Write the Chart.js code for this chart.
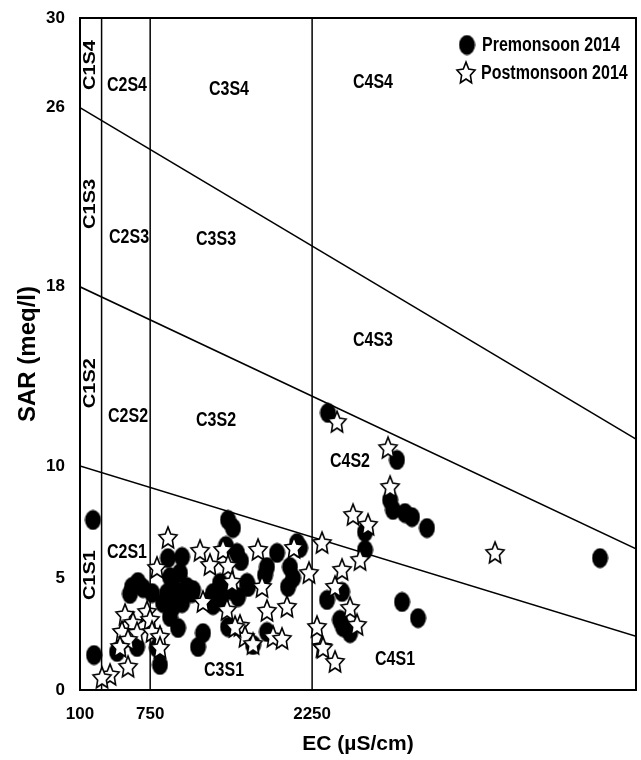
<!DOCTYPE html>
<html lang="en">
<head>
<meta charset="UTF-8">
<title>USSL Diagram</title>
<style>
    body { margin: 0; background: #fff; }
    .chart-box { width: 641px; height: 760px; }
</style>
</head>
<body>
<div class="chart-box"><canvas id="usslChart" width="641" height="760"></canvas></div>

<script src="https://cdn.jsdelivr.net/npm/chart.js"></script>
<script>
    // Premonsoon 2014 samples
    const preEC = [220, 230, 582, 637, 563, 684, 767, 443, 628, 841, 813, 915, 1045, 934, 1026, 906, 980, 1091, 1137,
        869, 961, 1045, 934, 1008, 1193, 1239, 1471, 1517, 1452, 1554, 1591, 1332, 1397, 1489, 1332, 1406, 1564, 1656, 1471,
        1832, 1925, 1814, 2045, 2027, 2073, 2138, 2110, 1703, 1832, 1147, 1304, 1647, 2397, 3036, 2972, 2999, 3110, 3175, 3314,
        2740, 2740, 2527, 2388, 3083, 3231, 2508, 2536, 2601, 4917];
    const preSAR = [7.59, 1.56, 4.60, 4.82, 4.29, 4.55, 4.33, 1.70, 1.92, 1.12, 1.88, 5.89, 5.94, 5.04, 5.22, 4.33, 4.46, 4.60, 4.33,
        3.88, 3.71, 3.88, 3.26, 2.77, 1.92, 2.54, 7.59, 7.23, 6.43, 6.12, 5.76, 4.33, 4.78, 4.46, 3.79, 3.97, 4.15, 4.60, 2.81,
        5.49, 6.12, 5.13, 5.49, 4.60, 5.00, 6.34, 6.56, 2.01, 2.59, 4.46, 4.02, 4.78, 12.37, 10.27, 8.48, 8.04, 7.90, 7.72, 7.23,
        7.05, 6.25, 4.38, 4.02, 3.93, 3.21, 3.13, 2.81, 2.54, 5.89];

    // Postmonsoon 2014 samples
    const postEC = [915, 813, 517, 591, 721, 748, 489, 628, 767, 545, 841, 841, 471, 545, 378, 304,
        1212, 1304, 1425, 1471, 1239, 1462, 1582, 1628, 1703, 1749, 1786, 1832, 1888, 1971, 2017, 2082, 2221, 2295, 2342, 2342,
        2481, 2953, 2972, 2629, 2768, 2694, 2527, 2462, 2601, 2666, 2351, 2462, 3944, 1508, 1536];
    const postSAR = [6.79, 5.45, 3.35, 2.99, 3.48, 3.13, 2.59, 2.54, 2.59, 2.23, 2.37, 1.88, 1.92, 1.03, 0.67, 0.54,
        6.21, 5.58, 6.25, 5.54, 3.93, 3.57, 2.86, 2.37, 2.05, 6.25, 4.60, 3.53, 2.37, 2.28, 3.71, 6.34, 5.22, 2.81, 1.92, 6.56,
        11.96, 10.80, 9.06, 7.81, 7.37, 5.80, 5.36, 4.60, 3.66, 2.90, 1.88, 1.25, 6.12, 4.82, 2.81];

    // axes
    const xTicks = [100, 750, 2250];
    const yTicks = [0, 5, 10, 18, 26, 30];
    const ecMin = 100, ecMax = 5250;

    // class boundaries
    const salinityLimits = [300, 750, 2250];
    const sodiumLeft = [10, 18, 26];     // SAR at left edge
    const sodiumRight = [2.4, 6.3, 11.2]; // SAR at right edge

    // class names (upright)
    const zoneNames = ['C2S4', 'C3S4', 'C4S4', 'C2S3', 'C3S3', 'C4S3', 'C2S2', 'C3S2', 'C4S2', 'C2S1', 'C3S1', 'C4S1'];
    const zoneEC = [535, 1480, 2814, 554, 1360, 2814, 545, 1360, 2601, 535, 1434, 3018];
    const zoneSAR = [27.0, 26.8, 27.1, 20.2, 20.1, 15.6, 12.2, 12.05, 10.2, 6.16, 0.85, 1.38];
    // C1 names (rotated)
    const c1Names = ['C1S4', 'C1S3', 'C1S2', 'C1S1'];
    const c1SAR = [27.9, 21.7, 13.7, 5.13];
    const c1EC = 200;

    const FONT = "'Liberation Sans', Arial, sans-serif";

    // marker images
    function makeDot() {
        const c = document.createElement('canvas');
        c.width = 17; c.height = 21;
        const g = c.getContext('2d');
        g.fillStyle = '#000';
        g.beginPath();
        g.ellipse(8.5, 10.5, 8, 10, 0, 0, Math.PI * 2);
        g.fill();
        return c;
    }
    function makeStar() {
        const c = document.createElement('canvas');
        c.width = 22; c.height = 26;
        const g = c.getContext('2d');
        g.translate(11, 13.5);
        g.scale(1, 1.2);
        g.beginPath();
        for (let i = 0; i < 10; i++) {
            const r = i % 2 === 0 ? 9.5 : 4.6;
            const a = -Math.PI / 2 + i * Math.PI / 5;
            if (i === 0) g.moveTo(r * Math.cos(a), r * Math.sin(a));
            else g.lineTo(r * Math.cos(a), r * Math.sin(a));
        }
        g.closePath();
        g.fillStyle = '#fff';
        g.fill();
        g.setTransform(1, 0, 0, 1, 0, 0);
        g.lineWidth = 1.6;
        g.strokeStyle = '#000';
        g.stroke();
        return c;
    }
    const dotImg = makeDot();
    const starImg = makeStar();

    function toPoints(xs, ys) {
        return xs.map((x, i) => ({ x: x, y: ys[i] }));
    }

    const lineStyle = { showLine: true, borderColor: '#000', borderWidth: 1.5, pointRadius: 0, fill: false, order: 5 };
    const boundaryDatasets = [];
    salinityLimits.forEach(ec => {
        boundaryDatasets.push(Object.assign({ label: 'C' + ec, data: [{ x: ec, y: 0 }, { x: ec, y: 30 }] }, lineStyle));
    });
    sodiumLeft.forEach((s, i) => {
        boundaryDatasets.push(Object.assign({ label: 'S' + s, data: [{ x: ecMin, y: s }, { x: ecMax, y: sodiumRight[i] }] }, lineStyle));
    });

    // text a bit taller than wide, like the original figure
    function tallText(ctx, t, x, y, rotate) {
        ctx.save();
        ctx.translate(x, y);
        ctx.scale(1, 1.25);
        if (rotate) ctx.rotate(-Math.PI / 2);
        ctx.fillText(t, 0, 0);
        ctx.restore();
    }

    // zone labels, frame and legend
    const decorPlugin = {
        id: 'decor',
        beforeDatasetsDraw(chart) {
            const ctx = chart.ctx, xs = chart.scales.x, ys = chart.scales.y;
            ctx.save();
            ctx.fillStyle = '#000';
            ctx.font = 'bold 16px ' + FONT;
            ctx.textAlign = 'center';
            ctx.textBaseline = 'middle';
            zoneNames.forEach((t, i) => {
                tallText(ctx, t, xs.getPixelForValue(zoneEC[i]), ys.getPixelForValue(zoneSAR[i]), false);
            });
            c1Names.forEach((t, i) => {
                tallText(ctx, t, xs.getPixelForValue(c1EC), ys.getPixelForValue(c1SAR[i]), true);
            });
            ctx.restore();
        },
        afterDraw(chart) {
            const ctx = chart.ctx, a = chart.chartArea;
            ctx.save();
            ctx.strokeStyle = '#000';
            ctx.lineWidth = 2;
            ctx.strokeRect(a.left, a.top, a.right - a.left, a.bottom - a.top);

            // legend
            ctx.drawImage(dotImg, 467 - dotImg.width / 2, 45 - dotImg.height / 2);
            ctx.drawImage(starImg, 466 - starImg.width / 2, 73 - starImg.height / 2);
            ctx.fillStyle = '#000';
            ctx.font = 'bold 16px ' + FONT;
            ctx.textAlign = 'left';
            ctx.textBaseline = 'middle';
            tallText(ctx, 'Premonsoon 2014', 482, 45, false);
            tallText(ctx, 'Postmonsoon 2014', 481, 73, false);
            ctx.restore();
        }
    };

    const ctx = document.getElementById('usslChart').getContext('2d');
    const usslChart = new Chart(ctx, {
        type: 'scatter',
        data: {
            datasets: boundaryDatasets.concat([
                {
                    label: 'Postmonsoon 2014',
                    data: toPoints(postEC, postSAR),
                    pointStyle: starImg,
                    pointRadius: 9,
                    order: 0
                },
                {
                    label: 'Premonsoon 2014',
                    data: toPoints(preEC, preSAR),
                    pointStyle: dotImg,
                    pointRadius: 9,
                    order: 1
                }
            ])
        },
        options: {
            responsive: false,
            animation: false,
            layout: { autoPadding: false, padding: { top: 18, right: 5, left: 0, bottom: 0 } },
            plugins: {
                legend: { display: false },
                tooltip: { enabled: false }
            },
            scales: {
                x: {
                    type: 'linear',
                    min: ecMin,
                    max: ecMax,
                    afterBuildTicks: s => { s.ticks = xTicks.map(v => ({ value: v })); },
                    afterFit: s => { s.height = 70; s.paddingLeft = 0; s.paddingRight = 0; },
                    grid: { display: false, drawTicks: false },
                    border: { display: false },
                    ticks: {
                        color: '#000',
                        padding: 14,
                        maxRotation: 0,
                        autoSkip: false,
                        callback: v => String(v),
                        font: { family: FONT, size: 17, weight: 'bold' }
                    },
                    title: {
                        display: true,
                        text: 'EC (µS/cm)',
                        color: '#000',
                        padding: { top: 0, bottom: 3 },
                        font: { family: FONT, size: 21, weight: 'bold' }
                    }
                },
                y: {
                    min: 0,
                    max: 30,
                    afterBuildTicks: s => { s.ticks = yTicks.map(v => ({ value: v })); },
                    afterFit: s => { s.width = 80; s.paddingTop = 0; s.paddingBottom = 0; },
                    grid: { display: false, drawTicks: false },
                    border: { display: false },
                    ticks: {
                        color: '#000',
                        padding: 15,
                        autoSkip: false,
                        callback: v => String(v),
                        font: { family: FONT, size: 17, weight: 'bold' }
                    },
                    title: {
                        display: true,
                        text: 'SAR (meq/l)',
                        color: '#000',
                        padding: { top: 14, bottom: 0 },
                        font: { family: FONT, size: 24, weight: 'bold' }
                    }
                }
            }
        },
        plugins: [decorPlugin]
    });
</script>
</body>
</html>
